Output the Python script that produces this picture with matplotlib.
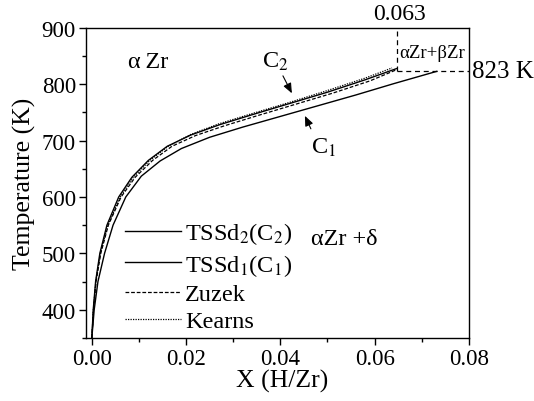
import matplotlib
matplotlib.use('Agg')
import matplotlib.pyplot as plt

plt.rcParams['font.family'] = ['Liberation Serif', 'DejaVu Serif']
plt.rcParams['mathtext.fontset'] = 'stix'

# curves: X (H/Zr) vs temperature (K)
x_c2 = [0.0, 0.0003, 0.0008, 0.0017, 0.0032, 0.0057, 0.0085, 0.012, 0.016, 0.021, 0.027, 0.034, 0.042, 0.050, 0.058, 0.0647]
t_c2 = [350, 400, 450, 500, 550, 600, 635, 665, 690, 710, 728, 746, 766, 786, 808, 828]

x_c1 = [0.0, 0.0005, 0.0013, 0.0027, 0.0045, 0.0072, 0.0105, 0.0145, 0.019, 0.025, 0.032, 0.040, 0.048, 0.056, 0.064, 0.0732]
t_c1 = [350, 400, 450, 500, 550, 600, 637, 664, 686, 706, 724, 743, 762, 781, 801, 823]

x_zuzek = [0.0, 0.00035, 0.0009, 0.0019, 0.0035, 0.0062, 0.0092, 0.0129, 0.017, 0.022, 0.028, 0.035, 0.043, 0.051, 0.059, 0.0647]
t_zuzek = [350, 400, 450, 500, 550, 600, 635, 665, 690, 709, 726, 744, 764, 784, 806, 826]

x_kearns = [0.0, 0.00033, 0.00085, 0.0018, 0.0034, 0.006, 0.0088, 0.0123, 0.0162, 0.021, 0.027, 0.034, 0.042, 0.050, 0.058, 0.0637]
t_kearns = [350, 400, 450, 500, 550, 600, 635, 665, 690, 711, 730, 748, 768, 789, 811, 829]

x_eutectoid = 0.0647  # corner of the alpha+beta box
t_eutectoid = 823

fig = plt.figure(figsize=(5.34, 4.02), dpi=100)
ax = fig.add_axes([0.1605, 0.157, 0.7175, 0.771])

ax.plot(x_c2, t_c2, color='black', lw=1.0, label='TSSd$_2$(C$_2$)')
ax.plot(x_c1, t_c1, color='black', lw=1.0, label='TSSd$_1$(C$_1$)')
ax.plot(x_zuzek, t_zuzek, color='black', lw=0.9, ls=(0, (3, 1.5)), label='Zuzek')
ax.plot(x_kearns, t_kearns, color='black', lw=0.9, ls=(0, (1, 1)), label='Kearns')

# alpha+beta box
ax.plot([x_eutectoid, x_eutectoid], [t_eutectoid, 900], color='black', lw=0.9, ls=(0, (4, 3)))
ax.plot([x_eutectoid, 0.08], [t_eutectoid, t_eutectoid], color='black', lw=0.9, ls=(0, (4, 3)))

ax.set_xlim(-0.0013, 0.08)
ax.set_ylim(350, 900)
ax.set_xticks([0.0, 0.02, 0.04, 0.06, 0.08])
ax.set_xticks([0.01, 0.03, 0.05, 0.07], minor=True)
ax.set_yticks([400, 500, 600, 700, 800, 900])
ax.set_yticks([350, 450, 550, 650, 750, 850], minor=True)
ax.tick_params(which='major', direction='out', length=5, width=1, labelsize=16.5, top=False, right=False, pad=2)
ax.tick_params(which='minor', direction='out', length=3, width=1)
for s in ax.spines.values():
    s.set_linewidth(1.0)

ax.set_xlabel('X (H/Zr)', fontsize=18.5, labelpad=0)
ax.xaxis.label.set_x(0.512)
ax.set_ylabel('Temperature (K)', fontsize=18.5, labelpad=4)

ax.text(0.0077, 840, 'α\u2009Zr', fontsize=17.5, va='center', ha='left')
ax.text(0.0465, 526, 'αZr +δ', fontsize=17.5, va='center', ha='left')
ax.text(0.0722, 857, 'αZr+βZr', fontsize=13.5, va='center', ha='center')
ax.text(0.0652, 925, '0.063', fontsize=17, va='center', ha='center', clip_on=False)
ax.text(0.0807, 823, '823 K', fontsize=18, va='center', ha='left', clip_on=False)

# curve labels with small arrows
arrow = dict(arrowstyle='-|>,head_length=0.6,head_width=0.25', color='black', lw=0.8,
             mutation_scale=10, shrinkA=0, shrinkB=0)
ax.text(0.0389, 841, 'C$_2$', fontsize=17.5, ha='center', va='center')
ax.annotate('', xy=(0.04245, 784), xytext=(0.04055, 815), arrowprops=arrow)
ax.text(0.0492, 689, 'C$_1$', fontsize=17.5, ha='center', va='center')
ax.annotate('', xy=(0.04521, 744), xytext=(0.04648, 721), arrowprops=arrow)

ax.legend(loc='upper left', bbox_to_anchor=(0.078, 0.41), frameon=False, fontsize=17.5,
          handlelength=2.3, handletextpad=0.15, labelspacing=0.22, borderaxespad=0)

fig.savefig('out.png', dpi=100)
